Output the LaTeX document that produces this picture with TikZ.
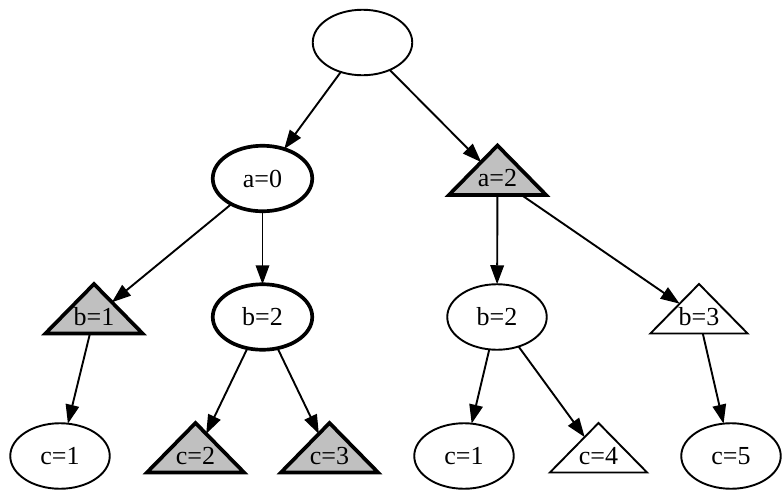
\documentclass[tikz,border=0pt]{standalone}
\usepackage{fontspec}
\setmainfont{Liberation Serif}
\usetikzlibrary{shapes.geometric,arrows.meta}
\definecolor{gvgray}{RGB}{192,192,192}
\begin{document}
\begin{tikzpicture}[x=1pt,y=-1pt,
  every node/.style={font=\fontsize{26}{30}\selectfont, inner sep=0pt, outer sep=0pt},
  ell/.style={draw, ellipse, line width=1.9pt, minimum width=99.5pt, minimum height=65.5pt},
  boldell/.style={ell, line width=3.7pt},
  tri/.style={draw, regular polygon, regular polygon sides=3, minimum size=66pt, line width=1.9pt, fill=white, transform shape},
  grtri/.style={tri, fill=gvgray, line width=3.7pt},
  tristretch/.style={xscale=1.7},
  conn/.style={-{Triangle[length=19pt,width=13.5pt]}, line width=1.9pt}
]
\useasboundingbox (0,0) rectangle (782,490);

% ellipse nodes
\node[ell] (root) at (362.5,42.5) {};
\node[boldell] (a0) at (262.5,178.5) {a=0};
\node[boldell] (b2L) at (262.5,317) {b=2};
\node[ell] (b2R) at (497,317) {b=2};
\node[ell] (c1L) at (60,456) {c=1};
\node[ell] (c1R) at (464,456) {c=1};
\node[ell] (c5) at (731,456) {c=5};

% triangle nodes
\begin{scope}[shift={(497.5,178.5)},tristretch]
  \node[grtri] (a2) at (0,0) {};
\end{scope}
\node (a2t) at (497.5,178.5) {a=2};
\begin{scope}[shift={(94,317)},tristretch]
  \node[grtri] (b1) at (0,0) {};
\end{scope}
\node (b1t) at (94,317) {b=1};
\begin{scope}[shift={(699,317)},tristretch]
  \node[tri] (b3) at (0,0) {};
\end{scope}
\node (b3t) at (699,317) {b=3};
\begin{scope}[shift={(195.5,456)},tristretch]
  \node[grtri] (c2) at (0,0) {};
\end{scope}
\node (c2t) at (195.5,456) {c=2};
\begin{scope}[shift={(329.5,456)},tristretch]
  \node[grtri] (c3) at (0,0) {};
\end{scope}
\node (c3t) at (329.5,456) {c=3};
\begin{scope}[shift={(598.5,456)},tristretch]
  \node[tri] (c4) at (0,0) {};
\end{scope}
\node (c4t) at (598.5,456) {c=4};

% connectors
\draw[conn] (root) -- (a0);
\draw[conn] (root) -- (a2);
\draw[conn] (a0) -- (b1);
\draw[conn] (a0) -- (b2L);
\draw[conn] (a2) -- (b2R);
\draw[conn] (a2) -- (b3);
\draw[conn] (b1) -- (c1L);
\draw[conn] (b2L) -- (c2);
\draw[conn] (b2L) -- (c3);
\draw[conn] (b2R) -- (c1R);
\draw[conn] (b2R) -- (c4);
\draw[conn] (b3) -- (c5);
\end{tikzpicture}
\end{document}
